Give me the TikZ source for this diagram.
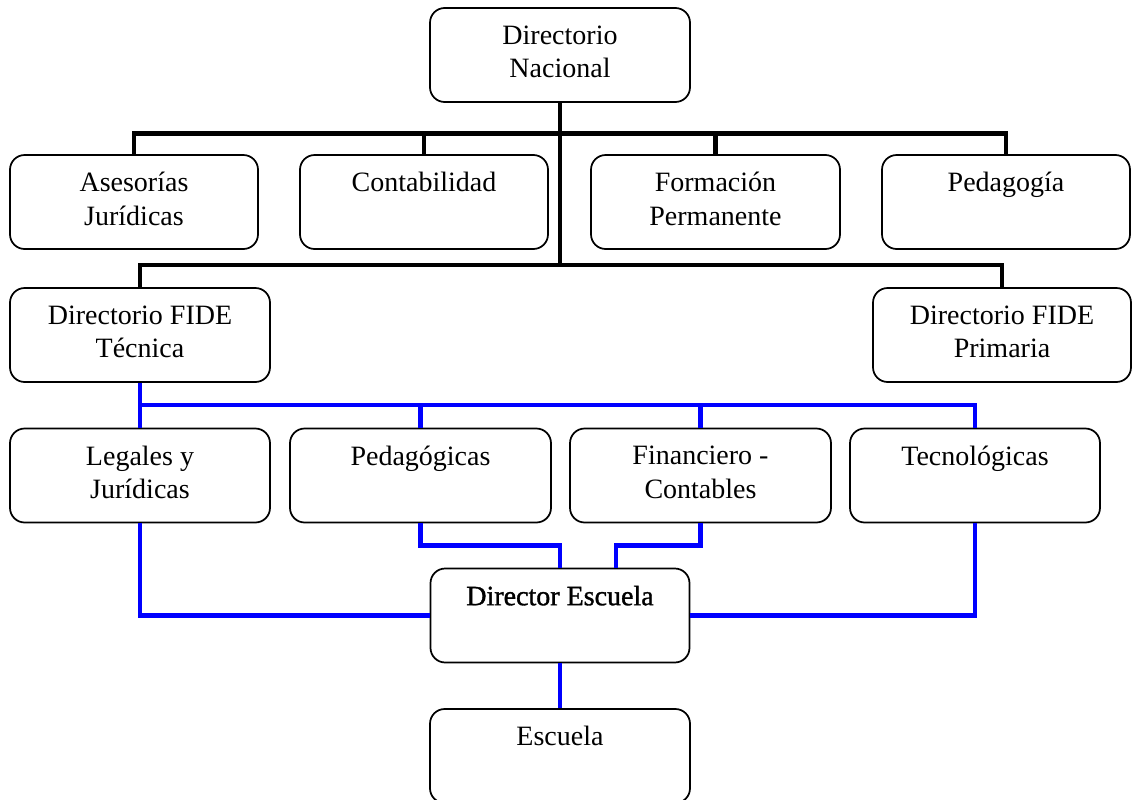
\documentclass[tikz,border=0pt]{standalone}
\usepackage{fontspec}
\setmainfont{Liberation Serif}
\newfontfamily\heavyserif[FakeBold=1.2]{Liberation Serif}
\usetikzlibrary{positioning}
\newcommand{\boxstrut}{\rule[-5pt]{0pt}{25pt}}

\begin{document}
\begin{tikzpicture}[x=0.75pt, y=-0.75pt,
  box/.style={draw, line width=1.3pt, rounded corners=11pt, align=center,
    minimum height=70.5pt, inner sep=0pt, font=\fontsize{21}{25}\selectfont,
    execute at begin node=\boxstrut, execute at end node=\boxstrut},
  blackline/.style={line width=3.6pt},
  blueline/.style={line width=3.6pt, blue}]

\useasboundingbox (0,0) rectangle (1133,800);

% top
\node[box, minimum width=195pt] (dn) at (560,55) {Directorio\\Nacional};

% second row
\node[box, minimum width=186pt] (aj) at (134,202) {Asesorías\\Jurídicas};
\node[box, minimum width=186pt] (co) at (424,202) {Contabilidad\\};
\node[box, minimum width=186.75pt] (fp) at (715.5,202) {Formación\\Permanente};
\node[box, minimum width=186pt] (pe) at (1006,202) {Pedagogía\\};

% directorios FIDE
\node[box, minimum width=195pt] (ft) at (140,335) {Directorio FIDE\\Técnica};
\node[box, minimum width=193.5pt] (fpr) at (1002,335) {Directorio FIDE\\Primaria};

% areas
\node[box, minimum width=195pt] (lj) at (140,475.5) {Legales y\\Jurídicas};
\node[box, minimum width=195.75pt] (pg) at (420.5,475.5) {Pedagógicas\\};
\node[box, minimum width=195.75pt] (fc) at (700.5,475.5) {Financiero -\\Contables};
\node[box, minimum width=187.5pt] (tc) at (975,475.5) {Tecnológicas\\};

% escuela
\node[box, minimum width=194.25pt, font=\fontsize{21}{25}\heavyserif] (de) at (560,615.5) {Director Escuela\\};
\node[box, minimum width=195pt] (es) at (560,756) {Escuela\\};

\coordinate (bus1) at (560,133.5);
\coordinate (bus2) at (560,265);
\coordinate (bus3) at (560,405);

% black lines
\draw[blackline] (aj.north) |- (bus1) -| (pe.north);
\draw[blackline] (co.north) |- (bus1);
\draw[blackline] (fp.north) |- (bus1);
\draw[blackline] (dn.south) -- (bus2);
\draw[blackline] (ft.north) |- (bus2) -| (fpr.north);

% blue lines
\draw[blueline] (ft.south) -- (lj.north);
\draw[blueline] (ft.south) |- (bus3) -| (tc.north);
\draw[blueline] (pg.north) |- (bus3);
\draw[blueline] (fc.north) |- (bus3);
\draw[blueline] (lj.south) |- (de.west);
\draw[blueline] (tc.south) |- (de.east);
\draw[blueline] (pg.south) -- ++(0,22) -| (de.north);
\draw[blueline] (fc.south) -- ++(0,22) -| ([xshift=42pt]de.north);
\draw[blueline] (de.south) -- (es.north);

\end{tikzpicture}
\end{document}
